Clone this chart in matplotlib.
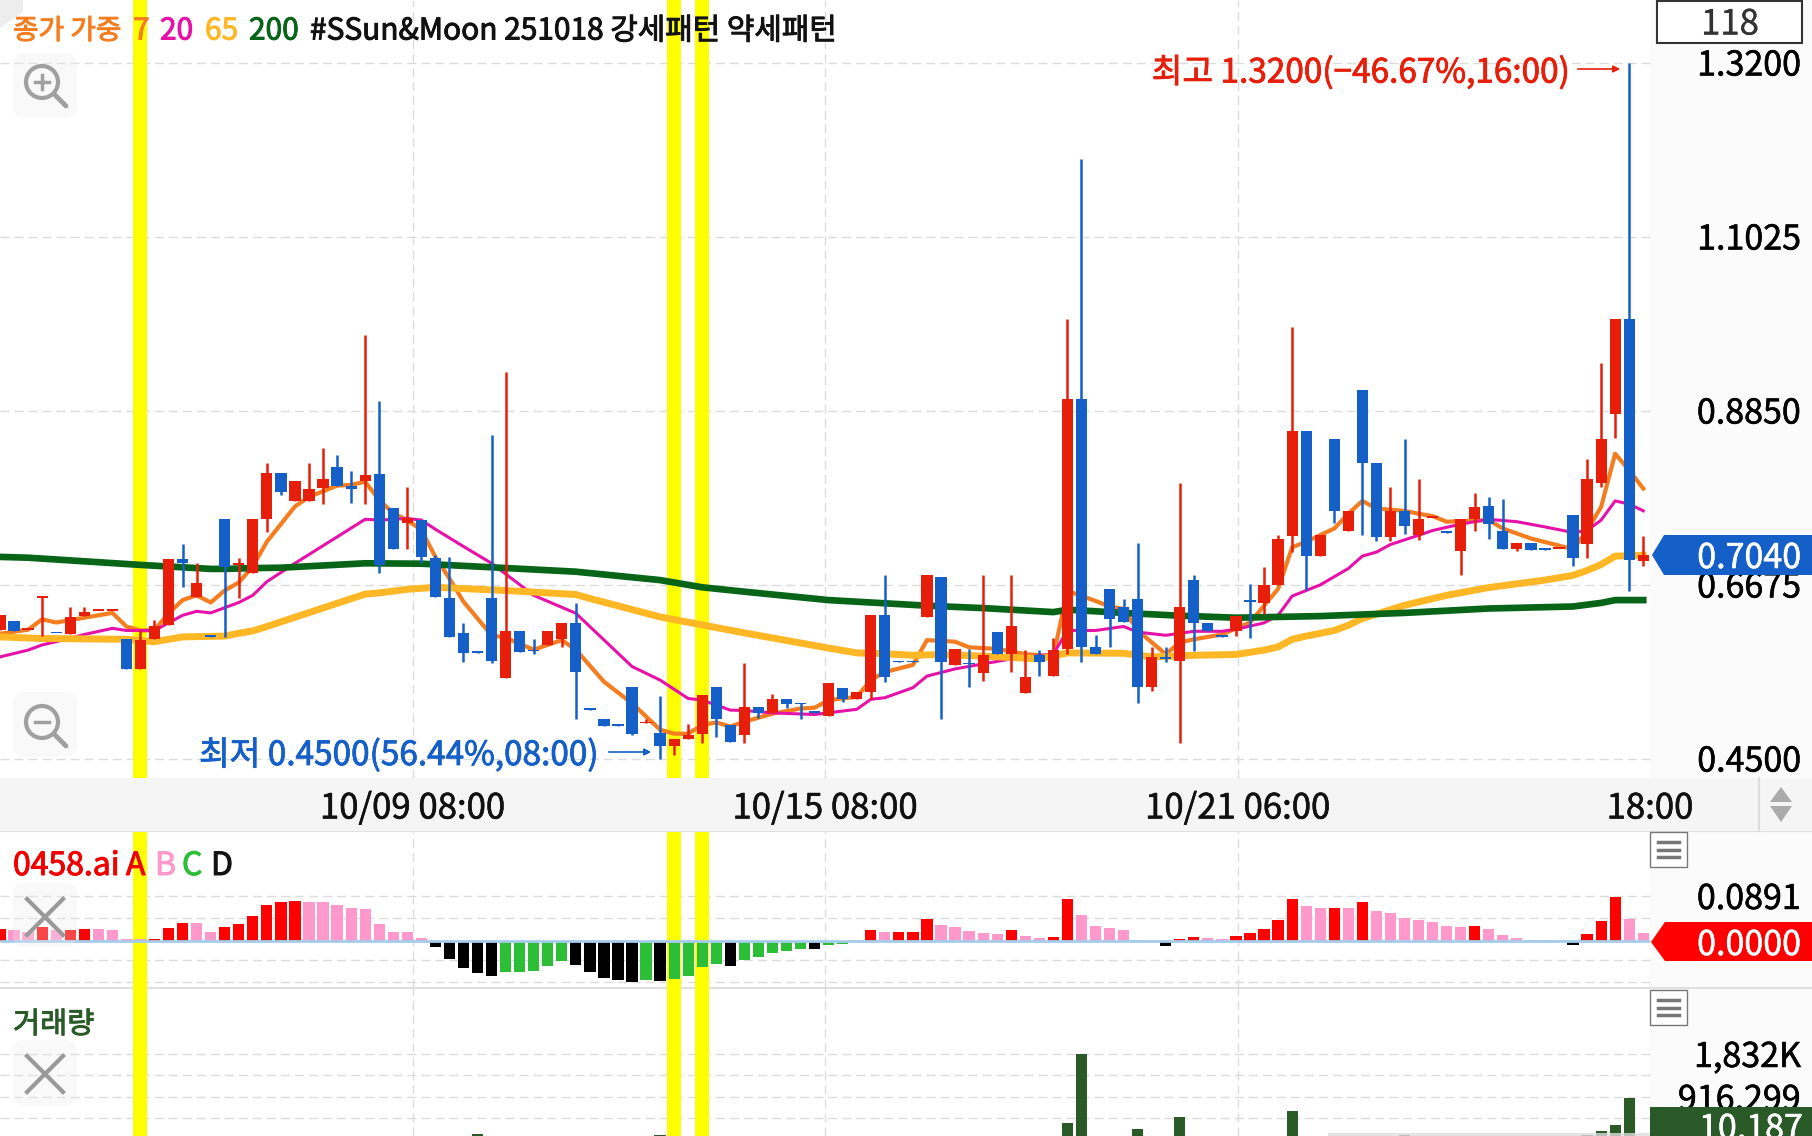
import matplotlib
matplotlib.use("Agg")
import matplotlib.pyplot as plt
import matplotlib.patheffects as pe
from matplotlib.patches import Circle, FancyBboxPatch, Polygon, Rectangle

# Constants
W, H = 1812, 1136
DX = 14.045  # pixels per candle
RIGHT = 1650  # where the plot area ends, pixels
plt.rcParams['font.family'] = ['Noto Sans CJK KR', 'DejaVu Sans']

# Colors
RED = '#E61E0A'
BLUE = '#155FC8'
C_MA7 = '#F47D20'
C_MA20 = '#E611A8'
C_MA65 = '#FFB726'
C_MA200 = '#086518'
C_VOL = '#2A5A28'
GRID = '#DCDCDC'
OSC_COLORS = {'A': '#FF0000', 'B': '#FF99CC', 'C': '#2DBE37', 'D': '#000000'}

# Candles
opens = [.611, .622, .611, .651, .6075, .606, .628, .635, .635, .600,
         .562, .599, .617, .699, .6515, .603, .750, .692, .682, .750,
         .807, .772, .772, .788, .815, .791, .7965, .805, .763, .744,
         .748, .701, .651, .607, .5835, .651, .551, .610, .585, .592,
         .600, .620, .512, .500, .492, .540, .494, .4815, .466, .475,
         .481, .539, .4915, .480, .514, .5065, .525, .519, .508, .5035,
         .538, .525, .5335, .630, .5715, .5715, .627, .677, .567, .569,
         .557, .608, .5805, .532, .579, .553, .587, .899, .590, .662,
         .640, .649, .539, .576, .572, .673, .619, .603, .610, .647,
         .645, .667, .728, .860, .703, .850, .735, .910, .820, .727,
         .760, .730, .751, .7335, .710, .749, .766, .735, .7125, .720,
         .712, .712, .755, .718, .795, .881, 1.000, .697]
highs = [.630, .622, .611, .652, .6075, .640, .640, .635, .635, .600,
         .611, .623, .700, .718, .694, .603, .750, .701, .749, .819,
         .807, .797, .820, .838, .830, .810, .980, .8965, .763, .790,
         .748, .704, .702, .619, .5835, .855, .933, .610, .599, .610,
         .620, .645, .512, .500, .492, .540, .500, .528, .474, .493,
         .529, .539, .4915, .570, .514, .531, .525, .519, .508, .545,
         .538, .533, .630, .680, .5715, .5715, .679, .677, .587, .587,
         .679, .608, .679, .586, .586, .601, 1.000, 1.200, .605, .662,
         .650, .720, .589, .589, .7945, .679, .619, .603, .628, .6685,
         .690, .730, .990, .860, .729, .850, .759, .910, .820, .790,
         .850, .800, .751, .7335, .749, .782, .777, .775, .719, .720,
         .712, .712, .755, .825, .944, 1.000, 1.320, .728]
lows = [.611, .610, .611, .6035, .6065, .606, .628, .635, .635, .562,
        .562, .599, .617, .665, .6515, .602, .602, .651, .682, .733,
        .780, .772, .772, .768, .791, .770, .768, .682, .7115, .712,
        .694, .652, .6015, .571, .5825, .570, .551, .583, .581, .592,
        .589, .500, .511, .491, .491, .479, .494, .450, .454, .475,
        .470, .477, .471, .470, .501, .5065, .513, .500, .507, .5035,
        .521, .525, .525, .546, .5705, .5705, .627, .500, .567, .540,
        .547, .5805, .558, .532, .553, .553, .5805, .571, .5805, .590,
        .621, .520, .535, .571, .469, .585, .610, .602, .603, .601,
        .631, .667, .708, .661, .703, .744, .735, .730, .722, .722,
        .731, .723, .751, .7325, .680, .735, .724, .712, .710, .7105,
        .711, .712, .691, .701, .790, .851, .660, .691]
closes = [.630, .610, .611, .652, .6065, .627, .6335, .635, .635, .562,
          .598, .616, .700, .694, .670, .602, .690, .692, .749, .807,
          .7835, .797, .787, .799, .791, .787, .804, .6915, .7115, .751,
          .702, .652, .6015, .582, .5825, .572, .610, .583, .584, .610,
          .620, .558, .511, .491, .491, .481, .494, .466, .474, .480,
          .529, .500, .471, .514, .5065, .525, .518, .518, .507, .545,
          .525, .533, .630, .552, .5705, .5705, .679, .571, .587, .568,
          .5795, .5805, .616, .552, .571, .586, .900, .590, .5805, .625,
          .621, .5395, .577, .575, .639, .620, .610, .602, .628, .646,
          .667, .725, .860, .703, .729, .759, .759, .820, .727, .760,
          .741, .749, .751, .7325, .749, .764, .743, .712, .719, .7105,
          .711, .712, .701, .800, .850, 1.000, .698, .704]

# Moving averages, (candle index, value) at the bends
ma7_idx = [0, 2, 3, 4, 5, 8, 9, 10, 11, 12, 13, 14, 15, 16, 17, 18, 19, 21, 22, 24, 25, 26, 27, 28, 29, 30, 31,
           32, 33, 35, 36, 38, 40, 41, 43, 45, 47, 48, 49, 50, 51, 52, 53, 55, 57, 58, 59, 61, 62,
           63, 65, 66, 68, 69, 71, 73, 75, 76, 78, 79, 80, 81, 83, 84, 85, 87, 88, 89, 91, 92, 93,
           95, 96, 97, 98, 100, 101, 102, 103, 106, 107, 109, 112, 113, 114, 115, 116, 117]
ma7 = [.606, .611, .624, .620, .623, .632, .615, .610, .6105, .6315, .648, .654, .645, .660, .670, .690, .721,
       .765, .777, .791, .792, .796, .773, .7565, .748, .7355, .702,
       .675, .646, .604, .601, .586, .598, .586, .546, .519, .486, .481, .481, .492, .495, .490, .496, .506,
       .5125, .5135, .523, .527, .548,
       .558, .567, .598, .596, .589, .587, .5805, .578, .6595, .647, .640, .637, .610, .5805, .595, .599, .605,
       .6125, .620, .662, .714, .721,
       .7375, .756, .772, .7625, .7595, .756, .753, .746, .748, .7375, .725, .7117, .735, .7645, .831, .810, .7875]

ma20_idx = [0, 2, 3, 4, 6, 8, 9, 11, 13, 14, 15, 17, 18, 19, 21, 26, 27, 29, 30,
            31, 33, 35, 38, 41, 45, 47, 49, 50, 52, 53, 55, 58, 61, 62,
            63, 65, 66, 68, 72, 75, 76, 78, 80, 81, 83, 85, 87, 88, 90, 91, 92, 93, 94,
            96, 97, 98, 99, 101, 102, 104, 106, 108, 110, 112, 113, 114, 115, 116, 117]
ma20 = [.577, .5855, .592, .596, .605, .6127, .610, .610, .629, .634, .632, .645, .654, .671, .694, .749, .748, .750, .748,
        .7365, .715, .694, .654, .6315, .565, .548, .525, .523, .5105, .510, .507, .505, .5115, .524,
        .526, .5385, .553, .562, .5745, .5805, .610, .610, .615, .608, .604, .609, .609, .6115, .6195, .629, .653, .660, .667,
        .6875, .703, .708, .7175, .729, .735, .743, .749, .746, .7395, .7325, .735, .748, .772, .768, .7596]

ma65_idx = [0, 3, 9, 11, 13, 16, 17, 18, 19, 26, 27, 29, 31,
            36, 41, 42, 47, 50, 53, 59, 61, 63,
            65, 67, 70, 74, 76, 80, 82, 85, 88, 90, 91, 92, 93,
            95, 96, 97, 100, 103, 106, 110, 112, 113, 114, 115, 117]
ma65 = [.602, .600, .599, .596, .602, .603, .6065, .6095, .615, .6555, .657, .6615, .664,
        .660, .655, .650, .627, .617, .607, .588, .582, .581,
        .579, .580, .578, .5745, .582, .5815, .577, .579, .580, .5855, .5895, .599, .603,
        .610, .6165, .625, .6415, .654, .6637, .673, .679, .685, .6925, .703, .704]

ma200_idx = [0, 2, 10, 12, 15, 16, 18, 20, 26, 30,
             35, 41, 47, 50, 53, 59, 62,
             66, 70, 75, 76, 80, 84, 88, 94, 100, 106, 112, 114, 115, 117]
ma200 = [.702, .701, .692, .690, .687, .687, .688, .6885, .694, .6935,
         .689, .6835, .673, .664, .6585, .648, .645,
         .641, .638, .633, .636, .632, .6285, .626, .628, .632, .6375, .640, .6445, .648, .648]

# Oscillator panel
osc_vals = [.0226, .0213, .0180, .0279, .0213, .0213, .0226, .0226, .0219, .0033,
            .0033, .0040, .0253, .0359, .0352, .0173, .0273, .0326, .0485, .0705,
            .0765, .0798, .0771, .0771, .0712, .0652, .0632, .0326, .0180, .0173,
            .0053, -.0133, -.0372, -.0552, -.0638, -.0698, -.0618, -.0618, -.0599, -.0505,
            -.0406, -.0485, -.0632, -.0745, -.0791, -.0818, -.0785, -.0798, -.0765, -.0698,
            -.0525, -.0472, -.0499, -.0392, -.0326, -.0246, -.0200, -.0166, -.0173, -.0080,
            -.0060, -.0033, .0213, .0166, .0173, .0173, .0439, .0306, .0273, .0186,
            .0160, .0140, .0206, .0093, .0060, .0073, .0838, .0519, .0286, .0246,
            .0206, .0020, -.0033, -.0100, .0040, .0073, .0060, .0040, .0086, .0146,
            .0239, .0419, .0838, .0685, .0645, .0658, .0652, .0771, .0599, .0545,
            .0459, .0406, .0366, .0286, .0266, .0286, .0233, .0113, .0060, .0013,
            .0013, -.0027, -.0080, .0133, .0386, .0878, .0426, .0146]
osc_cats = list('ABBABAABBB' 'BAAABBAAAA' 'AABBBBBBBB' 'BDDDDDCCCC' 'CDDDDDCDCC'
                'CCDCCCCCDC' 'CCABAAABBB' 'BBABBAABBB' 'BBDDAABBAA' 'AAABBABABB'
                'BBBBBABBBB' 'BDDAAABB')

# Volume panel, only the bars tall enough to show
vol_idx = [34, 47, 76, 77, 81, 84, 92, 100, 113, 114, 115, 116]
vol_vals = [128000, 117000, 362000, 1832000, 234000, 490000, 618000, 96000, 106000, 192000, 320000, 895000]

# Axis labels
price_ticks = [1.32, 1.1025, .885, .6675, .45]
osc_grid = [.0891, .0455, -.0390, -.0830]
vol_grid = [1832000, 1380000, 916299, 468000]
time_labels = ['10/09 08:00', '10/15 08:00', '10/21 06:00', '18:00']
time_pos = [29.37, 58.74, 88.12, 117.48]
yellow_idx = [10, 48, 50]
GRID_END = 117.48


def make_panel(top, bottom, ylim):
    a = fig.add_axes([0, 1 - bottom / H, 1, (bottom - top) / H], zorder=1)
    a.patch.set_alpha(0)
    a.set_xlim(0, W / DX)
    a.set_ylim(*ylim)
    a.axis('off')
    for i in yellow_idx:
        a.axvspan(i - 0.5, i + 0.5, color='#FFFF00', lw=0, zorder=2)
    a.vlines(time_pos[:3], *ylim, color=GRID, lw=1, linestyle=(0, (6.5, 3.6)), zorder=1)
    return a


def grid(a, ys):
    a.hlines(ys, 0, GRID_END, color=GRID, lw=1, linestyle=(0, (6.5, 3.6)), zorder=1)


def heavy(width, col):
    # the reference font is a medium weight, this font only has regular and bold
    return [pe.withStroke(linewidth=width, foreground=col)]


def axis_label(a, v, txt):
    a.annotate(txt, xy=(1801 / DX, v), xytext=(0, -2.5), textcoords='offset points', ha='right', va='center',
               fontsize=24.5, color='black', zorder=5, path_effects=heavy(0.4, 'black'))


def label(x, y, txt, col, size, ha='left', stroke=0.7):
    ov.text(x, y + 3.5, txt, ha=ha, va='center', fontsize=size, color=col, path_effects=heavy(stroke, col))


def pill(x0, y0, x1, y1):
    ov.add_patch(FancyBboxPatch((x0 + 10, y0 + 10), x1 - x0 - 20, y1 - y0 - 20,
                                boxstyle='round,pad=10,rounding_size=12', fc='#EEEEEE', ec='none', alpha=0.3))


def magnifier(cx, cy, plus):
    ov.add_patch(Circle((cx, cy), 16, fc='none', ec='#A0A0A0', lw=3))
    ov.plot([cx + 13, cx + 24], [cy + 13, cy + 24], color='#A0A0A0', lw=3.5, solid_capstyle='round')
    ov.plot([cx - 7, cx + 7], [cy, cy], color='#A0A0A0', lw=2.5)
    if plus:
        ov.plot([cx, cx], [cy - 7, cy + 7], color='#A0A0A0', lw=2.5)


def cross(cx, cy, r):
    ov.plot([cx - r, cx + r], [cy - r, cy + r], color='#999999', lw=3)
    ov.plot([cx - r, cx + r], [cy + r, cy - r], color='#999999', lw=3)


def hamburger(x0, y0):
    ov.add_patch(Rectangle((x0, y0), 37, 35, fc='white', ec='#777777', lw=1))
    for dy in (10, 18, 25):
        ov.plot([x0 + 8, x0 + 29], [y0 + dy, y0 + dy], color='#777777', lw=2.5)


fig = plt.figure(figsize=(W / 100, H / 100), dpi=100)

# Background layer, all in pixels
bg = fig.add_axes([0, 0, 1, 1], zorder=0)
bg.set_xlim(0, W)
bg.set_ylim(H, 0)
bg.axis('off')
bg.add_patch(Rectangle((RIGHT, 0), W - RIGHT, H, fc='#FBFBFB', ec='none'))
bg.plot([0, W], [831, 831], color='#E0E0E0', lw=1.5)
bg.plot([0, W], [988, 988], color='#E0E0E0', lw=1.5)

# Main panel
ax = make_panel(0, 778, (.45 + (758.5 - 778) / 800, .45 + 758.5 / 800))
grid(ax, price_ticks)
ax.plot(ma7_idx, ma7, color=C_MA7, lw=3, zorder=3, solid_joinstyle='round')
ax.plot(ma20_idx, ma20, color=C_MA20, lw=2.2, zorder=3, solid_joinstyle='round')
ax.plot(ma65_idx, ma65, color=C_MA65, lw=5, zorder=3, solid_joinstyle='round')
ax.plot(ma200_idx, ma200, color=C_MA200, lw=4.8, zorder=3, solid_joinstyle='round')

for i in range(len(opens)):
    col = RED if closes[i] >= opens[i] else BLUE
    ax.vlines(i, lows[i], highs[i], color=col, lw=1.8, zorder=4)
    body = max(abs(closes[i] - opens[i]), 0.0018)
    ax.bar(i, body, bottom=min(opens[i], closes[i]), width=0.8, color=col, lw=0, zorder=4)

for v in price_ticks:
    axis_label(ax, v, f'{v:.4f}')

# Oscillator panel
osc = make_panel(832, 988, (-(988 - 940.7) * .001993, (940.7 - 832) * .001993))
grid(osc, osc_grid)
osc.bar(range(len(osc_vals)), osc_vals, width=0.8, color=[OSC_COLORS[c] for c in osc_cats], lw=0, zorder=3)
osc.hlines(0, 0, GRID_END, color='#A5CDEB', lw=2, zorder=4)
axis_label(osc, .0891, '0.0891')

# Volume panel
vol = make_panel(988, 1136, (4 * 21300, 152 * 21300))
grid(vol, vol_grid)
vol.bar(vol_idx, vol_vals, width=0.8, color=C_VOL, lw=0, zorder=3)
axis_label(vol, 1832000, '1,832K')
axis_label(vol, 916299, '916,299')

# Top layer: time strip, tags, buttons, titles
ov = fig.add_axes([0, 0, 1, 1], zorder=2)
ov.patch.set_alpha(0)
ov.set_xlim(0, W)
ov.set_ylim(H, 0)
ov.axis('off')

ov.add_patch(Rectangle((0, 778), W, 53, fc='#F5F5F5', ec='none'))
for lab, pos in zip(time_labels, time_pos):
    label(pos * DX, 805.5, lab, '#111111', 25, ha='center', stroke=0.4)
ov.plot([1759, 1759], [778, 831], color='#DDDDDD', lw=1.5)
ov.add_patch(Polygon([(1781, 787), (1770, 802), (1792, 802)], fc='#ABABAB', ec='none'))
ov.add_patch(Polygon([(1781, 822), (1770, 806), (1792, 806)], fc='#ABABAB', ec='none'))

ov.add_patch(Polygon([(0, 0), (23, 0), (23, 12), (0, 28)], fc='#EDEDED', ec='none'))
ov.add_patch(Rectangle((1657, 1), 145, 42, fc='white', ec='#333333', lw=1.5))
label(1730, 21.5, '118', '#333333', 25, ha='center', stroke=0.2)

# Header
label(13, 27.5, '종가 가중', C_MA7, 20)
for txt, x, col in [('7', 133, C_MA7), ('20', 160, C_MA20), ('65', 205, C_MA65),
                    ('200', 249, C_MA200), ('#SSun&Moon 251018 강세패턴 약세패턴', 310, '#111111')]:
    label(x, 27.5, txt, col, 21.5)

# Min / max notes
label(1568, 69.5, '최고 1.3200(−46.67%,16:00)', RED, 24, ha='right', stroke=0.6)
ov.annotate('', xy=(1623, 69), xytext=(1575, 69), arrowprops=dict(arrowstyle='-|>', color=RED, lw=1.2))
label(199, 752, '최저 0.4500(56.44%,08:00)', BLUE, 24, stroke=0.6)
ov.annotate('', xy=(654, 752), xytext=(606, 752), arrowprops=dict(arrowstyle='-|>', color=BLUE, lw=1.2))

# Buttons
pill(13, 53, 77, 118)
magnifier(42, 82, True)
pill(13, 692, 77, 757)
magnifier(42, 722, False)
pill(13, 883, 77, 947)
cross(45, 917, 18)
pill(13, 1040, 77, 1106)
cross(45, 1074, 18)
hamburger(1650, 832)
hamburger(1650, 990)

# Panel titles
for txt, x, col in [('0458.ai', 13, '#F00000'), ('A', 126, '#F00000'), ('B', 155, '#FF99CC'),
                    ('C', 182, '#2DBE37'), ('D', 211, '#111111')]:
    label(x, 862.5, txt, col, 23)
label(13, 1021, '거래량', C_VOL, 21.2)

# Value tags
ov.add_patch(Polygon([(1652, 555), (1664, 535), (W, 535), (W, 575), (1664, 575)], fc=BLUE, ec='none'))
label(1801, 555, '0.7040', 'white', 24.5, ha='right', stroke=0.4)
ov.add_patch(Polygon([(1651, 942), (1665, 922), (W, 922), (W, 961), (1665, 961)], fc='#FF0000', ec='none'))
label(1801, 942, '0.0000', 'white', 24.5, ha='right', stroke=0.4)
ov.add_patch(Rectangle((1650, 1107), W - 1650, 29, fc=C_VOL, ec='none'))
label(1803, 1126, '10,187', 'white', 24.5, ha='right', stroke=0.4)
ov.add_patch(Rectangle((1328, 1133), 322, 3, fc='#DDDDDD', ec='none', alpha=0.8))

fig.savefig('out.png', dpi=100)
